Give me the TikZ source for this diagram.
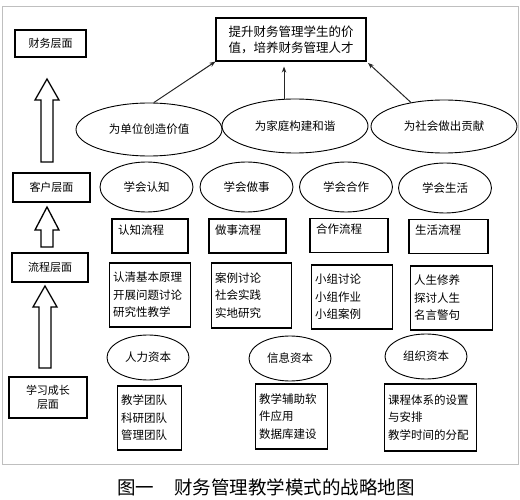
\documentclass[tikz,border=0pt]{standalone}
\usepackage{fontspec}
\setmainfont{Noto Sans CJK SC}
\usetikzlibrary{arrows.meta, positioning, calc, shapes.geometric}

\begin{document}
\begin{tikzpicture}[x=1pt, y=-1pt,
  >={Stealth[length=6pt, width=4.5pt]},
  box/.style={draw, line width=1.1pt, inner sep=0pt, align=center, font=\fontsize{11}{14}\selectfont},
  oval/.style={draw, ellipse, line width=0.9pt, inner sep=0pt, font=\fontsize{11.5}{14}\selectfont},
  flow/.style={draw, line width=1.1pt, inner xsep=6pt, inner ysep=0pt, text height=15pt, text depth=19pt,
    align=left, font=\fontsize{11.5}{14}\selectfont},
  list/.style={draw, line width=1.1pt, inner ysep=0pt, align=left, font=\fontsize{11.5}{17.5}\selectfont},
  bigarrow/.style={draw, line width=1.3pt, fill=white},
  link/.style={->, line width=1pt, black!85}]
  \useasboundingbox (0,0) rectangle (520,500);
  \draw[black!25, line width=1pt] (2,7) rectangle (518,464);

  % left column: perspectives
  \node[box, minimum width=71pt, minimum height=27pt] (fin)   at (50.5,43.5)  {财务层面};
  \node[box, minimum width=77pt, minimum height=29pt] (cust)  at (51.5,187.5) {客户层面};
  \node[box, minimum width=76pt, minimum height=29pt] (proc)  at (50,267.5)   {流程层面};
  \node[box, minimum width=78pt, minimum height=41pt] (learn) at (48,397.5)   {学习成长\\层面};
  \foreach \cx/\ya/\yb/\yc in {47/79/100/162, 47/207/230/247, 45/286/307/368}
    \draw[bigarrow] (\cx-6,\yc) -- (\cx-6,\yb) -- (\cx-12,\yb) -- (\cx,\ya)
      -- (\cx+12,\yb) -- (\cx+6,\yb) -- (\cx+6,\yc) -- cycle;

  % goal and values
  \node[box, minimum width=150pt, minimum height=43pt, align=left, font=\fontsize{12.5}{16}\selectfont]
    (goal) at (291,39.5) {提升财务管理学生的价\\值，培养财务管理人才};
  \node[oval, minimum width=146pt, minimum height=53pt] (unit)   at (149,129.5) {为单位创造价值};
  \node[oval, minimum width=146pt, minimum height=54pt] (family) at (295,126)   {为家庭构建和谐};
  \node[oval, minimum width=146pt, minimum height=53pt] (soc)    at (444,126.5) {为社会做出贡献};
  \draw[link] (unit.80) -- (goal.south west);
  \draw[link, shorten >=5pt] (family.112) -- (family.112 |- goal.south);
  \draw[link, shorten >=2pt] (soc.144) -- (goal.south east);

  % customer: learning goals
  \node[oval, minimum width=93pt, minimum height=50pt] (know) at (146.5,187) {学会认知};
  \node[oval, minimum width=93pt, minimum height=50pt] (act)  at (246.5,187) {学会做事};
  \node[oval, minimum width=93pt, minimum height=50pt] (coop) at (346,187)   {学会合作};
  \node[oval, minimum width=93pt, minimum height=50pt] (live) at (445,188)   {学会生活};

  % processes
  \node[flow, text width=64pt] (knowflow) at (150,236)   {认知流程};
  \node[flow, text width=65pt] (actflow)  at (247.5,236) {做事流程};
  \node[flow, text width=66pt] (coopflow) at (349,235.5) {合作流程};
  \node[flow, text width=67pt] (liveflow) at (448.5,236.5) {生活流程};
  \node[list, text width=74pt, minimum height=64pt] (knowlist) at (150,295)   {认清基本原理\\开展问题讨论\\研究性教学};
  \node[list, text width=73pt, minimum height=65pt] (actlist)  at (251.5,295.5) {案例讨论\\社会实践\\实地研究};
  \node[list, text width=74pt, minimum height=64pt] (cooplist) at (352,297)   {小组讨论\\小组作业\\小组案例};
  \node[list, text width=75pt, minimum height=64pt] (livelist) at (451.5,298) {人生修养\\探讨人生\\名言警句};

  % learning and growth: capitals
  \node[oval, minimum width=82pt, minimum height=45pt] (human) at (148,357.5) {人力资本};
  \node[oval, minimum width=82pt, minimum height=45pt] (info)  at (290,358.5) {信息资本};
  \node[oval, minimum width=82pt, minimum height=45pt] (org)   at (426,356.5) {组织资本};
  \node[list, text width=57pt, minimum height=64pt] (humanlist) at (149.5,418) {教学团队\\科研团队\\管理团队};
  \node[list, text width=65pt, minimum height=65pt] (infolist)  at (291.5,416.5) {教学辅助软\\件应用\\数据库建设};
  \node[list, text width=85pt, minimum height=67pt] (orglist)   at (430.5,417.5) {课程体系的设置\\与安排\\教学时间的分配};

  \node[font=\fontsize{18.5}{20}\selectfont] (caption) at (266,487) {图一\hspace{20pt}财务管理教学模式的战略地图};
\end{tikzpicture}
\end{document}
